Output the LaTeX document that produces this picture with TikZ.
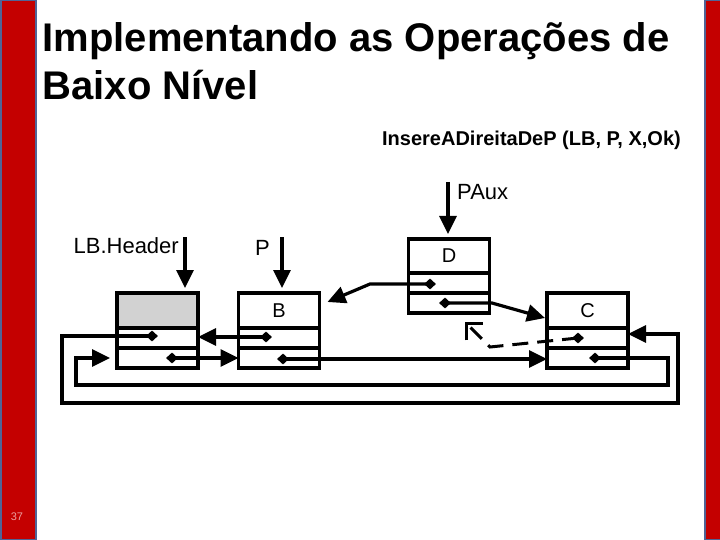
\documentclass[tikz,border=0pt]{standalone}
\usepackage{fontspec}
\setmainfont{Liberation Sans}
\usetikzlibrary{arrows.meta,shapes.geometric,calc}
\definecolor{barred}{RGB}{196,0,0}
\definecolor{baredge}{RGB}{80,100,150}
\definecolor{hdrgray}{RGB}{210,210,210}
\definecolor{pagenum}{RGB}{235,160,160}
\begin{document}
\begin{tikzpicture}[x=1pt,y=-1pt,
  cell/.style={draw, line width=3.6pt, rectangle, minimum width=81pt, inner sep=0pt, outer sep=0pt, font=\fontsize{20}{22}\selectfont},
  headcell/.style={cell, minimum height=35pt},
  rowcell/.style={cell, minimum height=20pt},
  dia/.style={diamond, fill=black, inner sep=0pt, minimum width=12pt, minimum height=11pt},
  ptr/.style={line width=3.2pt, -{Triangle[length=18pt,width=17pt]}},
  lbl/.style={font=\fontsize{22}{24}\selectfont, inner sep=0pt},
]
\useasboundingbox (0,0) rectangle (720,540);
\fill[white] (0,0) rectangle (720,540);
% side bars
\fill[baredge] (0,0) rectangle (37,540);
\fill[barred] (2,1) rectangle (35,539);
\fill[baredge] (704,0) rectangle (720,540);
\fill[barred] (706,1) rectangle (720,539);
\node[font=\fontsize{11}{12}\selectfont, text=pagenum, inner sep=0pt] (pg) at (17,517) {37};

% title
\node[anchor=base west, font=\bfseries\fontsize{40}{48}\selectfont, inner sep=0pt] (t1) at (42.5,52) {Implementando as Operações de};
\node[anchor=base west, font=\bfseries\fontsize{40}{48}\selectfont, inner sep=0pt] (t2) at (42.5,100) {Baixo Nível};
\node[anchor=base east, font=\bfseries\fontsize{20}{24}\selectfont, inner sep=0pt] (sub) at (681,146) {InsereADireitaDeP (LB, P, X,Ok)};

% list nodes
\node[headcell, fill=hdrgray] (Ht) at (157.5,310.5) {};
\node[rowcell] (H1) at (157.5,338) {};
\node[rowcell] (H2) at (157.5,358) {};

\node[headcell] (Bt) at (279,310.5) {B};
\node[rowcell] (B1) at (279,338) {};
\node[rowcell] (B2) at (279,358) {};

\node[headcell, minimum height=34pt] (Dt) at (449,256) {D};
\node[rowcell] (D1) at (449,283) {};
\node[rowcell] (D2) at (449,303) {};

\node[headcell] (Ct) at (587.5,310.5) {C};
\node[rowcell] (C1) at (587.5,338) {};
\node[rowcell] (C2) at (587.5,358) {};

% diamonds
\node[dia] (hd1) at (152,336) {};
\node[dia] (hd2) at (172,358) {};
\node[dia] (bd1) at (266,337) {};
\node[dia] (bd2) at (283,359) {};
\node[dia] (dd1) at (430,284) {};
\node[dia] (dd2) at (445,303) {};
\node[dia] (cd1) at (578,338) {};
\node[dia] (cd2) at (595,358) {};

% links
\draw[ptr] (hd1.center) -- (62,336) -- (62,403) -- (678,403) -- (678,334) -- ([yshift=4pt]C1.east);
\draw[ptr] (hd2.center) -- (hd2.center -| B2.west);
\draw[ptr] (bd1.center) -- (bd1.center -| H1.east);
\draw[ptr] (bd2.center) -- (bd2.center -| C2.west);
\draw[ptr] (cd2.center) -- (668,358) -- (668,385) -- (76,385) -- (76,358) -- ([xshift=-7pt]H2.west);
\draw[ptr] (dd1.center) -- (370,284) -- ([shift={(8pt,-9pt)}]Bt.north east);
\draw[ptr] (dd2.center) -- (492,303) -- ([shift={(-2pt,-25pt)}]Ct.north west);
\coordinate (dtip) at (465,322);
\draw[line width=3pt, dash pattern=on 16pt off 9pt, -{Straight Barb[length=12pt,width=24pt]}] (cd1.center) -- (490,347) -- (dtip);

% external pointers
\coordinate (lbs) at (185,237);
\coordinate (ps) at (282,237);
\coordinate (pas) at (448,182);
\draw[ptr] (lbs) -- ([yshift=5pt]Ht.north -| lbs);
\draw[ptr] (ps) -- ([yshift=5pt]Bt.north -| ps);
\draw[ptr] (pas) -- ([yshift=5pt]Dt.north -| pas);
\node[lbl, anchor=base east] (lblh) at (179,253) {LB.Header};
\node[lbl, anchor=base east] (lblp) at (270,255) {P};
\node[lbl, anchor=base west] (lblpa) at (457,200) {PAux};
\end{tikzpicture}
\end{document}
